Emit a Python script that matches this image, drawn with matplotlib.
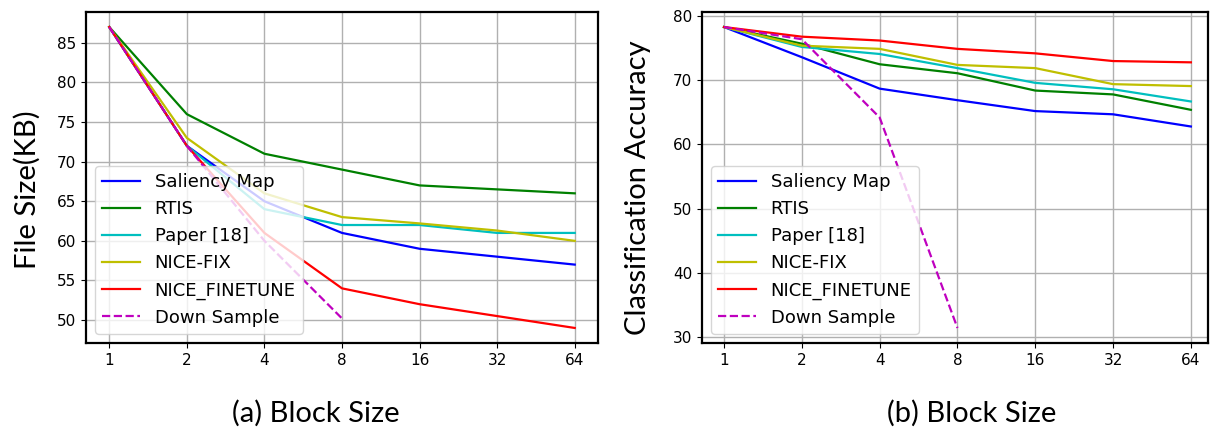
import matplotlib
matplotlib.use("Agg")
from matplotlib import pyplot as plt

# block sizes, plotted as evenly spaced categories
block_sizes = ["1", "2", "4", "8", "16", "32", "64"]

# (a) file size in KB
size_saliency = [87, 72, 65, 61, 59, 58, 57]
size_rtis = [87, 76, 71, 69, 67, 66.5, 66]
size_paper18 = [87, 72, 64, 62, 62, 61, 61]
size_nice_fix = [87, 73, 66, 63, 62.2, 61.3, 60]
size_nice_finetune = [87, 72, 61, 54, 52, 50.5, 49]
size_down_sample = [87, 72, 60, 50.2]

# (b) classification accuracy
acc_saliency = [78.3, 73.6, 68.7, 66.9, 65.2, 64.7, 62.8]
acc_rtis = [78.3, 75.7, 72.5, 71.1, 68.4, 67.8, 65.4]
acc_paper18 = [78.3, 75.2, 74.1, 71.9, 69.6, 68.6, 66.7]
acc_nice_fix = [78.3, 75.4, 74.9, 72.4, 71.9, 69.4, 69.1]
acc_nice_finetune = [78.3, 76.8, 76.2, 74.9, 74.2, 73.0, 72.8]
acc_down_sample = [78.3, 76.4, 64.2, 31.4]

labels = ["Saliency Map", "RTIS", "Paper [18]", "NICE-FIX", "NICE_FINETUNE", "Down Sample"]
styles = ["b-", "g-", "c-", "y-", "r-", "m--"]

W, H = 1210, 433
fig = plt.figure(figsize=(W / 100, H / 100), dpi=100)

ax1 = fig.add_axes([86 / W, (H - 343) / H, 512 / W, 331 / H])
ax2 = fig.add_axes([702 / W, (H - 343) / H, 506 / W, 331 / H])

panels = [
    (ax1, [size_saliency, size_rtis, size_paper18, size_nice_fix, size_nice_finetune, size_down_sample]),
    (ax2, [acc_saliency, acc_rtis, acc_paper18, acc_nice_fix, acc_nice_finetune, acc_down_sample]),
]

for ax, series in panels:
    for ys, st, lab in zip(series, styles, labels):
        ax.plot(block_sizes[:len(ys)], ys, st, label=lab, linewidth=1.6)
    ax.grid(True, color="#b0b0b0", linewidth=1.0)
    ax.set_axisbelow(True)
    for sp in ax.spines.values():
        sp.set_linewidth(1.6)
    ax.tick_params(labelsize=11)
    ax.legend(loc="lower left", fontsize=13, labelspacing=0.5,
              handlelength=2.1, handletextpad=0.8)

ax1.set_xlim(-0.3, 6.3)
ax2.set_xlim(-0.283, 6.22)

lab_font = "Lato"
fig.text(27 / W, 1 - 190 / H, "File Size(KB)", rotation=90, ha="center", va="center",
         fontsize=21, family=lab_font)
fig.text(638 / W, 1 - 188 / H, "Classification Accuracy", rotation=90, ha="center", va="center",
         fontsize=21, family=lab_font)
fig.text(316 / W, 1 - 413 / H, "(a) Block Size", ha="center", va="center",
         fontsize=21, family=lab_font)
fig.text(972 / W, 1 - 413 / H, "(b) Block Size", ha="center", va="center",
         fontsize=21, family=lab_font)

fig.savefig("out.png", dpi=100)
